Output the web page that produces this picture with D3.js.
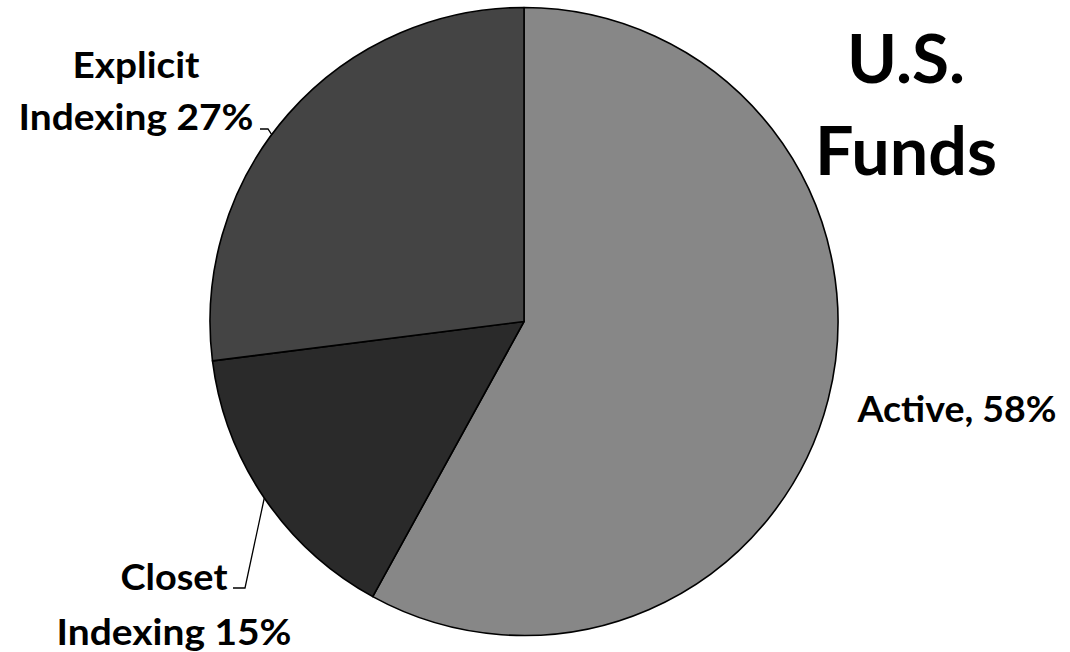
<!DOCTYPE html>
<html>
<head>
<meta charset="utf-8">
<script src="https://cdn.jsdelivr.net/npm/d3@7"></script>
<style>
  html, body { margin: 0; padding: 0; background: #fff; }
  svg { display: block; }
  text { font-family: Lato, "Open Sans", sans-serif; font-weight: bold; fill: #000; }
</style>
</head>
<body>
<svg id="chart" width="1070" height="652"></svg>
<script>
// Share of U.S. fund assets by management style (percent)
const categories = ["Active", "Closet Indexing", "Explicit Indexing"];
const shares = [58, 15, 27];
const sliceColors = ["#878787", "#2a2a2a", "#444444"];
const labelLines = [["Active, 58%"], ["Closet", "Indexing 15%"], ["Explicit", "Indexing 27%"]];
const title = ["U.S.", "Funds"];

const svg = d3.select("#chart");
const cx = 524, cy = 321.5, radius = 314;

const pie = d3.pie().sort(null).value(d => d.value);
const arcs = pie(categories.map((c, i) => ({ name: c, value: shares[i], color: sliceColors[i] })));
const arc = d3.arc().innerRadius(0).outerRadius(radius);

const g = svg.append("g").attr("transform", `translate(${cx},${cy})`);
g.selectAll("path.slice")
  .data(arcs)
  .join("path")
  .attr("class", "slice")
  .attr("d", arc)
  .attr("fill", d => d.data.color)
  .attr("stroke", "#000")
  .attr("stroke-width", 1.6)
  .attr("stroke-linejoin", "round");

// point on the rim at a given fraction of a slice's span
function rimPoint(d, frac) {
  const a = d.startAngle + (d.endAngle - d.startAngle) * frac;
  return [cx + radius * Math.sin(a), cy - radius * Math.cos(a)];
}

// label placement: anchor x, first baseline, line gap, target widths
const labelLayout = [
  { x: 957, y: 422, gap: 0, widths: [199], leader: null },
  { x: 174, y: 590, gap: 55, widths: [107, 235], leader: { frac: 0.5, end: [245, 588], tail: 233 } },
  { x: 136, y: 78, gap: 52, widths: [127, 235], leader: { frac: 0.45, end: [268, 129], tail: 260 } }
];
const fontSize = 37;

arcs.forEach((d, i) => {
  const L = labelLayout[i];
  labelLines[i].forEach((t, k) => {
    svg.append("text")
      .attr("x", L.x)
      .attr("y", L.y + k * L.gap)
      .attr("text-anchor", "middle")
      .attr("font-size", fontSize)
      .attr("textLength", L.widths[k])
      .attr("lengthAdjust", "spacingAndGlyphs")
      .text(t);
  });
  if (L.leader) {
    const p = rimPoint(d, L.leader.frac);
    svg.append("path")
      .attr("d", d3.line()([[L.leader.tail, L.leader.end[1]], L.leader.end, p]))
      .attr("fill", "none")
      .attr("stroke", "#000")
      .attr("stroke-width", 1.3);
  }
});

// title
const titleWidths = [118, 182];
title.forEach((t, k) => {
  svg.append("text")
    .attr("x", 906)
    .attr("y", 83 + k * 92)
    .attr("text-anchor", "middle")
    .attr("font-size", 66)
    .attr("textLength", titleWidths[k])
    .attr("lengthAdjust", "spacingAndGlyphs")
    .text(t);
});
</script>
</body>
</html>
